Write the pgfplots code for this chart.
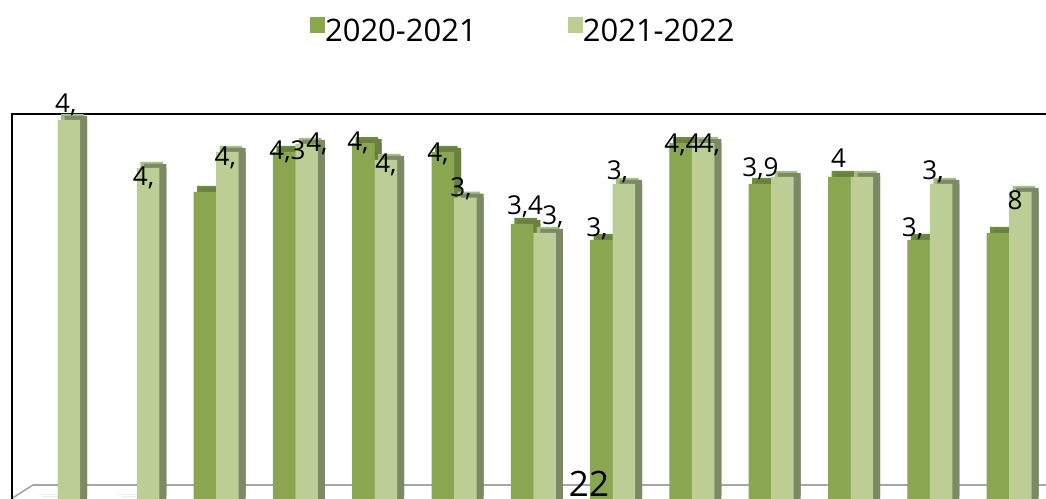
\documentclass[border=0pt]{standalone}
\usepackage{fontspec}
\setmainfont{Open Sans}
\usepackage{pgfplots}
\pgfplotsset{compat=1.18}
\usepackage{pgfplotstable}
\definecolor{dfront}{HTML}{8AA650}
\definecolor{dtop}{HTML}{6F8B3B}
\definecolor{dside}{HTML}{6A8040}
\definecolor{lfront}{HTML}{BCCE96}
\definecolor{ltop}{HTML}{A9BB86}
\definecolor{lside}{HTML}{7B8A64}
\definecolor{floorc}{HTML}{A6A6A6}

% 2020-2021
\pgfplotstableread{
x v
1 0
2 0
3 3.85
4 4.35
5 4.46
6 4.35
7 3.45
8 3.25
9 4.46
10 3.95
11 4.04
12 3.25
13 3.34
}\dark
% 2021-2022
\pgfplotstableread{
x v
1 4.75
2 4.15
3 4.35
4 4.45
5 4.25
6 3.78
7 3.34
8 3.95
9 4.46
10 4.04
11 4.04
12 3.95
13 3.85
}\light
% data labels (as shown, truncated)
\pgfplotstableread{
x v lab dx dy
4 4.35 4,3 3.3 -8
5 4.46 4, -5.5 -7
6 4.35 4, -4.8 -10
7 3.45 3,4 3 9
8 3.25 3, -4.4 3
9 4.46 4,4 1.8 -9
10 3.95 3,9 0.5 7
11 4.04 4 -0.8 9
12 3.25 3, -6 3
}\labD
\pgfplotstableread{
x v lab dx dy
1 4.75 4, -3 7
2 4.15 4, -4.5 -18
3 4.35 4, -2 -14
4 4.45 4, 10.3 -8
5 4.25 4, 0 -13
6 3.78 3, -4.3 1
7 3.34 3, 8.4 8
8 3.95 3, -6.4 4
9 4.46 4, 6.3 -9
12 3.95 3, -8 4
13 3.85 8 -5.4 -18
}\labL

\begin{document}
\begin{tikzpicture}[x=1pt,y=1pt]
\useasboundingbox (0,0) rectangle (1046,498);
\clip (0,0) rectangle (1046,498);
\draw[color=floorc, line width=1.6pt] (11,-1) -- (33,13) -- (1100,13);
\begin{axis}[
  at={(12pt,-32pt)}, anchor=south west,
  x=79.3pt, y=80pt,
  xmin=0.4262, xmax=13.768, ymin=-0.375, ymax=4.825,
  xtick=\empty, ytick=\empty,
  axis line style={line width=1.2pt},
  clip=false,
  bar width=22.5pt,
  legend columns=2,
  legend style={draw=none, fill=none, inner sep=0pt, outer sep=0pt,
    at={(axis description cs:0.2817,1.233)}, anchor=north west,
    font=\fontsize{31}{36}\selectfont,
    nodes={inner sep=0pt},
    column sep=0pt,
    /tikz/every even column/.append style={column sep=91pt}},
  legend image code/.code={\fill[#1] (0pt,-2pt) rectangle (15pt,14pt);},
  lblD/.style={nodes near coords, point meta=explicit symbolic,
    visualization depends on={\thisrow{dx} \as \dx},
    visualization depends on={\thisrow{dy} \as \dy},
    every node near coord/.append style={anchor=base, inner sep=0pt,
      xshift={\dx pt - 11.25pt}, yshift=\dy pt, text=black,
      font=\fontsize{26}{30}\selectfont}},
  lblL/.style={nodes near coords, point meta=explicit symbolic,
    visualization depends on={\thisrow{dx} \as \dx},
    visualization depends on={\thisrow{dy} \as \dy},
    every node near coord/.append style={anchor=base, inner sep=0pt,
      xshift={\dx pt + 11.25pt}, yshift=\dy pt, text=black,
      font=\fontsize{26}{30}\selectfont}},
]
% 2020-2021 (3D faces)
\addplot[ybar, forget plot, draw=none, fill=dtop, bar shift=-7.75pt, yshift=6pt] table[x=x,y=v]{\dark};
\addplot[ybar, forget plot, draw=none, fill=dside, bar shift=-4.25pt] table[x=x,y=v]{\dark};
\addplot[ybar, forget plot, draw=none, fill=dside, bar shift=-4.25pt, yshift=4pt] table[x=x,y=v]{\dark};
\addplot[ybar, draw=none, fill=dfront, bar shift=-11.25pt] table[x=x,y=v]{\dark};
\addlegendentry{2020-2021}
% 2021-2022 (3D faces)
\addplot[ybar, forget plot, draw=none, fill=ltop, bar shift=14.75pt, yshift=6pt] table[x=x,y=v]{\light};
\addplot[ybar, forget plot, draw=none, fill=lside, bar shift=18.25pt] table[x=x,y=v]{\light};
\addplot[ybar, forget plot, draw=none, fill=lside, bar shift=18.25pt, yshift=4pt] table[x=x,y=v]{\light};
\addplot[ybar, draw=none, fill=lfront, bar shift=11.25pt] table[x=x,y=v]{\light};
\addlegendentry{2021-2022}
% labels
\addplot[ybar, forget plot, draw=none, fill=none, bar shift=-11.25pt, lblD] table[x=x,y=v,meta=lab]{\labD};
\addplot[ybar, forget plot, draw=none, fill=none, bar shift=11.25pt, lblL] table[x=x,y=v,meta=lab]{\labL};
\end{axis}
\node[font=\fontsize{35}{40}\selectfont, anchor=base, inner sep=0pt] at (589,2) {22};
\end{tikzpicture}
\end{document}
